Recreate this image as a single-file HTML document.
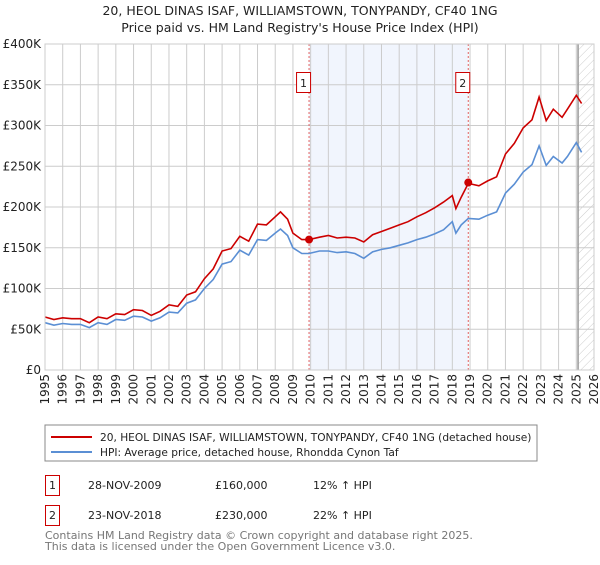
<!DOCTYPE html>
<html><head><meta charset="utf-8"><style>
body{margin:0;background:#fff;font-family:"Liberation Sans","DejaVu Sans",sans-serif;}
svg text{font-family:"DejaVu Sans","Liberation Sans",sans-serif;}
</style></head><body>
<svg id="c" width="600" height="560" xmlns="http://www.w3.org/2000/svg">
<defs><pattern id="hatch" width="6" height="6" patternUnits="userSpaceOnUse" patternTransform="rotate(45)"><line x1="0" y1="0" x2="0" y2="6" stroke="#ccc" stroke-width="1"/></pattern></defs>
<text x="300" y="15" text-anchor="middle" font-size="12.5" fill="#222">20, HEOL DINAS ISAF, WILLIAMSTOWN, TONYPANDY, CF40 1NG</text>
<text x="300" y="32" text-anchor="middle" font-size="12.5" fill="#222">Price paid vs. HM Land Registry's House Price Index (HPI)</text>
<g id="plot"></g>
<rect x="45" y="425" width="492" height="36" fill="#fff" stroke="#888"/>
<line x1="51" y1="437" x2="92" y2="437" stroke="#cc0000" stroke-width="2"/>
<text x="100" y="441" font-size="10.6" fill="#222">20, HEOL DINAS ISAF, WILLIAMSTOWN, TONYPANDY, CF40 1NG (detached house)</text>
<line x1="51" y1="452" x2="92" y2="452" stroke="#5b8fd4" stroke-width="2"/>
<text x="100" y="456" font-size="10.6" fill="#222">HPI: Average price, detached house, Rhondda Cynon Taf</text>
<g>
<rect x="45.5" y="475.5" width="14" height="20" fill="#fff" stroke="#cc0000"/>
<text x="52.5" y="489" text-anchor="middle" font-size="11" fill="#222">1</text>
<text x="88" y="489" font-size="11" fill="#222">28-NOV-2009</text>
<text x="215" y="489" font-size="11" fill="#222">£160,000</text>
<text x="313" y="489" font-size="11" fill="#222">12% ↑ HPI</text></g>
<g>
<rect x="45.5" y="505.5" width="14" height="20" fill="#fff" stroke="#cc0000"/>
<text x="52.5" y="519" text-anchor="middle" font-size="11" fill="#222">2</text>
<text x="88" y="519" font-size="11" fill="#222">23-NOV-2018</text>
<text x="215" y="519" font-size="11" fill="#222">£230,000</text>
<text x="313" y="519" font-size="11" fill="#222">22% ↑ HPI</text></g>
<text x="45" y="539" font-size="11" fill="#777">Contains HM Land Registry data © Crown copyright and database right 2025.</text>
<text x="45" y="550" font-size="11" fill="#777">This data is licensed under the Open Government Licence v3.0.</text>
</svg>
<script>
const years=[1995,1995.5,1996,1996.5,1997,1997.5,1998,1998.5,1999,1999.5,2000,2000.5,2001,2001.5,2002,2002.5,2003,2003.5,2004,2004.5,2005,2005.5,2006,2006.5,2007,2007.5,2008,2008.3,2008.7,2009,2009.5,2009.9,2010.5,2011,2011.5,2012,2012.5,2013,2013.5,2014,2014.5,2015,2015.5,2016,2016.5,2017,2017.5,2018,2018.2,2018.5,2018.9,2019.5,2020,2020.5,2021,2021.5,2022,2022.5,2022.9,2023.3,2023.7,2024.2,2024.5,2025,2025.3];
const hpiValues=[58,55,57,56,56,52,58,56,62,61,66,65,60,64,71,70,82,86,100,111,130,133,147,141,160,159,168,173,165,150,143,143,146,146,144,145,143,137,145,148,150,153,156,160,163,167,172,182,168,178,186,185,190,194,217,228,243,252,275,251,262,254,262,279,267];
const priceValues=[65,62,64,63,63,58,65,63,69,68,74,73,67,72,80,78,92,96,112,124,146,149,164,158,179,178,188,194,185,168,160,160,163,165,162,163,162,157,166,170,174,178,182,188,193,199,206,214,198,212,229,226,232,237,265,278,297,307,335,306,320,310,320,337,327];
const saleYears=[2009.91,2018.9];
const salePrices=[160,230];
const saleLabels=["1","2"];
const yTicks=[0,50,100,150,200,250,300,350,400];
const yTickLabels=["£0","£50K","£100K","£150K","£200K","£250K","£300K","£350K","£400K"];
const xTicks=[1995,1996,1997,1998,1999,2000,2001,2002,2003,2004,2005,2006,2007,2008,2009,2010,2011,2012,2013,2014,2015,2016,2017,2018,2019,2020,2021,2022,2023,2024,2025,2026];

const X0=45,X1=594,Y0=370,Y1=44;
const xs=y=>X0+(y-1995)/(2026-1995)*(X1-X0);
const ys=v=>Y0-v/400*(Y0-Y1);
const NS="http://www.w3.org/2000/svg";
const g=document.getElementById('plot');
function mk(t,a){const e=document.createElementNS(NS,t);for(const k in a)e.setAttribute(k,a[k]);g.appendChild(e);return e;}
let e;
e=mk('rect',{x:xs(saleYears[0]),y:Y1,width:xs(saleYears[1])-xs(saleYears[0]),height:Y0-Y1,fill:'#eef2fc',opacity:0.8});


e=mk('rect',{x:xs(2025.1),y:Y1,width:X1-xs(2025.1),height:Y0-Y1,fill:'url(#hatch)'});


yTicks.forEach((v,i)=>{
 e=mk('line',{x1:X0,x2:X1,y1:ys(v),y2:ys(v),stroke:'#ccc'});
 
 
 e=mk('text',{x:X0-4,y:ys(v)+4,'text-anchor':'end','font-size':12,fill:'#222'});
 e.textContent=yTickLabels[i];
 
 
});
xTicks.forEach(v=>{
 e=mk('line',{x1:xs(v),x2:xs(v),y1:Y1,y2:Y0,stroke:'#ccc'});
 
 
 e=mk('text',{x:0,y:0,'text-anchor':'end','font-size':12,fill:'#222',transform:`translate(${xs(v)+4},${Y0+4}) rotate(-90)`});
 e.textContent=v;
 
 
});
e=mk('line',{x1:xs(2025.1),x2:xs(2025.1),y1:Y1,y2:Y0,stroke:'#999','stroke-width':1.5});


saleYears.forEach((s,i)=>{
 e=mk('line',{x1:xs(s),x2:xs(s),y1:Y1,y2:Y0,stroke:'#e06060','stroke-dasharray':'2,2'});
 
 
});
const path=vals=>vals.map((v,i)=>(i?'L':'M')+xs(years[i]).toFixed(1)+','+ys(v).toFixed(1)).join('');
e=mk('path',{d:path(hpiValues),fill:'none',stroke:'#5b8fd4','stroke-width':1.6});


e=mk('path',{d:path(priceValues),fill:'none',stroke:'#cc0000','stroke-width':1.6});


saleYears.forEach((s,i)=>{
 e=mk('circle',{cx:xs(s),cy:ys(salePrices[i]),r:4,fill:'#cc0000'});
 
 
 e=mk('rect',{x:xs(s)-12.5,y:72.5,width:14,height:20,fill:'#fff',stroke:'#cc0000'});
 
 
 e=mk('text',{x:xs(s)-5.5,y:87,'text-anchor':'middle','font-size':11,fill:'#222'});
 e.textContent=saleLabels[i];
 
 
});
e=mk('rect',{x:X0,y:Y1,width:X1-X0,height:Y0-Y1,fill:'none',stroke:'#ccc'});


</script>
</body></html>
